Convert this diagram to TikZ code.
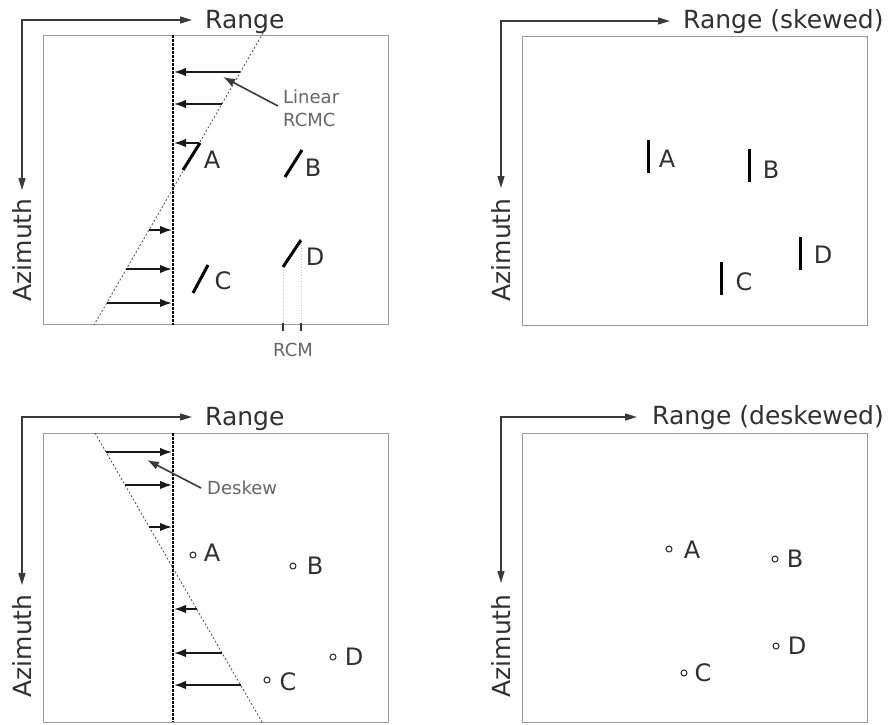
\documentclass[tikz,border=0pt]{standalone}
\usepackage{fontspec}
\setmainfont{DejaVu Sans}
\usetikzlibrary{arrows.meta,positioning}
\definecolor{framegray}{HTML}{9A9A9A}
\definecolor{axisgray}{HTML}{3A3A3A}
\definecolor{textgray}{HTML}{303030}
\definecolor{notegray}{HTML}{666666}
\definecolor{guidegray}{HTML}{C4C4C4}
\tikzset{
  frame/.style={draw=framegray, line width=1pt},
  axis/.style={draw=axisgray, line width=1.4pt, {Triangle[length=12pt,width=7pt]}-{Triangle[length=12pt,width=7pt]}},
  axislabel/.style={font=\fontsize{25}{27}\selectfont, text=textgray, inner sep=0pt},
  zeroline/.style={draw=black, line width=1.2pt, dash pattern=on 2.5pt off 1.5pt},
  skewline/.style={draw=black!70, line width=0.8pt, dash pattern=on 2pt off 2pt},
  shiftarrow/.style={draw=black!90, line width=1.6pt, -{Latex[length=12pt,width=8.5pt]}},
  leader/.style={draw=axisgray, line width=1.6pt, -{Latex[length=12pt,width=8.5pt]}},
  target/.style={draw=black, line width=3pt},
  pointtarget/.style={circle, draw=black!85, line width=1pt, minimum size=6pt, inner sep=0pt},
  tlabel/.style={font=\fontsize{24}{26}\selectfont, text=textgray, inner sep=0pt},
  note/.style={font=\fontsize{18}{23}\selectfont, text=notegray, inner sep=0pt, align=left},
  guide/.style={draw=guidegray, line width=0.7pt, dotted},
  tick/.style={draw=black!80, line width=1.2pt}
}

\begin{document}
\begin{tikzpicture}[x=1pt, y=-1pt]
  \useasboundingbox (0,0) rectangle (893,724);

  % range / azimuth before correction
  \begin{scope}[shift={(43,35)}]
    \coordinate (c1) at (-21,-15);
    \coordinate (rt1) at (149,-15);
    \coordinate (at1) at (-21,155);
    \draw[axis] (rt1) -- (c1) -- (at1);
    \node[axislabel, anchor=base west] (range1) at (162,-7) {Range};
    \node[axislabel, rotate=90] (azim1) at (-21,215) {Azimuth};
    \draw[frame] (0,0) rectangle (345,289);

    \coordinate (zt1) at (130,0);
    \coordinate (zb1) at (130,290);
    \draw[zeroline] (zt1) -- (zb1);
    \coordinate (st1) at (220,-2);
    \coordinate (sb1) at (51,290);
    \draw[skewline] (st1) -- (sb1);
    \foreach \y/\x in {37/197,69/179,108/156}
      \draw[shiftarrow] (\x,\y) -- (131,\y);
    \foreach \y/\x in {195/106,234/83,268/64}
      \draw[shiftarrow] (\x,\y) -- (129,\y);

    \node[note, anchor=west] (rcmc) at (240,73) {Linear\\RCMC};
    \coordinate (lt1) at (180,42);
    \draw[leader] ([xshift=-5pt,yshift=2pt]rcmc.west) -- (lt1);

    \draw[target] (140,135) -- (157,108);
    \draw[target] (242,142) -- (259,115);
    \draw[target] (150,258) -- (165,230);
    \draw[target] (240,232) -- (258,205);
    \node[tlabel] (a1) at (169,125) {A};
    \node[tlabel] (b1) at (270,133) {B};
    \node[tlabel] (cc1) at (180,246) {C};
    \node[tlabel] (d1) at (272,222) {D};

    \draw[guide] (240,232) -- (240,289);
    \draw[guide] (258,205) -- (258,289);
    \draw[tick] (240,288) -- (240,296);
    \draw[tick] (258,288) -- (258,296);
    \node[note] (rcm) at (250,315) {RCM};
  \end{scope}

  % skewed range
  \begin{scope}[shift={(522,36)}]
    \coordinate (c2) at (-21,-15);
    \coordinate (rt2) at (148,-15);
    \coordinate (at2) at (-21,152);
    \draw[axis] (rt2) -- (c2) -- (at2);
    \node[axislabel, anchor=base west] (range2) at (161,-8) {Range (skewed)};
    \node[axislabel, rotate=90] (azim2) at (-21,214) {Azimuth};
    \draw[frame] (0,0) rectangle (345,289);

    \draw[target] (126,104) -- (126,137);
    \draw[target] (227,113) -- (227,146);
    \draw[target] (199,226) -- (199,259);
    \draw[target] (278,201) -- (278,234);
    \node[tlabel] (a2) at (145,123) {A};
    \node[tlabel] (b2) at (249,134) {B};
    \node[tlabel] (cc2) at (222,246) {C};
    \node[tlabel] (d2) at (301,219) {D};
  \end{scope}

  % deskew
  \begin{scope}[shift={(43,433)}]
    \coordinate (c3) at (-21,-16);
    \coordinate (rt3) at (149,-16);
    \coordinate (at3) at (-21,152);
    \draw[axis] (rt3) -- (c3) -- (at3);
    \node[axislabel, anchor=base west] (range3) at (162,-8) {Range};
    \node[axislabel, rotate=90] (azim3) at (-21,213) {Azimuth};
    \draw[frame] (0,0) rectangle (345,289);

    \coordinate (zt3) at (130,0);
    \coordinate (zb3) at (130,289);
    \draw[zeroline] (zt3) -- (zb3);
    \coordinate (st3) at (52,0);
    \coordinate (sb3) at (219,289);
    \draw[skewline] (st3) -- (sb3);
    \foreach \y/\x in {19/63,52/82,94/106}
      \draw[shiftarrow] (\x,\y) -- (129,\y);
    \foreach \y/\x in {176/154,220/179,252/198}
      \draw[shiftarrow] (\x,\y) -- (131,\y);

    \node[note, anchor=west] (deskew) at (164,55) {Deskew};
    \coordinate (lt3) at (104,27);
    \draw[leader] ([xshift=-6pt]deskew.west) -- (lt3);

    \node[pointtarget] (p3a) at (150,122) {};
    \node[pointtarget] (p3b) at (250,133) {};
    \node[pointtarget] (p3c) at (224,247) {};
    \node[pointtarget] (p3d) at (290,224) {};
    \node[tlabel] (a3) at (169,120) {A};
    \node[tlabel] (b3) at (272,133) {B};
    \node[tlabel] (cc3) at (245,249) {C};
    \node[tlabel] (d3) at (311,224) {D};
  \end{scope}

  % deskewed range
  \begin{scope}[shift={(522,433)}]
    \coordinate (c4) at (-21,-16);
    \coordinate (rt4) at (115,-16);
    \coordinate (at4) at (-21,150);
    \draw[axis] (rt4) -- (c4) -- (at4);
    \node[axislabel, anchor=base west] (range4) at (130,-9) {Range (deskewed)};
    \node[axislabel, rotate=90] (azim4) at (-21,213) {Azimuth};
    \draw[frame] (0,0) rectangle (345,289);

    \node[pointtarget] (p4a) at (147,116) {};
    \node[pointtarget] (p4b) at (253,126) {};
    \node[pointtarget] (p4c) at (162,240) {};
    \node[pointtarget] (p4d) at (254,213) {};
    \node[tlabel] (a4) at (170,117) {A};
    \node[tlabel] (b4) at (273,126) {B};
    \node[tlabel] (cc4) at (181,240) {C};
    \node[tlabel] (d4) at (275,213) {D};
  \end{scope}
\end{tikzpicture}
\end{document}
